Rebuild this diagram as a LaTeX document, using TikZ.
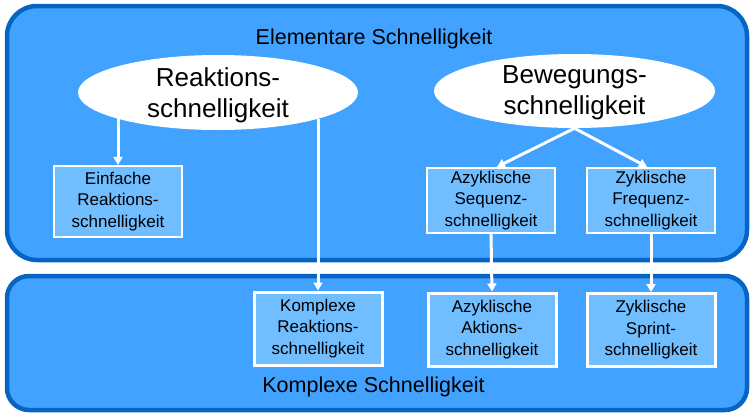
\documentclass[tikz,border=0pt]{standalone}
\usepackage{fontspec}
\setmainfont{Liberation Sans}
\usetikzlibrary{arrows.meta,shapes.geometric}
\definecolor{cfill}{HTML}{41A3FF}
\definecolor{cborder}{HTML}{0664C2}
\definecolor{bfill}{HTML}{70BDFF}
\begin{document}
\begin{tikzpicture}[x=1pt,y=-1pt,
  container/.style={draw=cborder, fill=cfill, line width=4.5pt},
  ell/.style={ellipse, fill=white, draw=none, inner sep=0pt},
  elltext/.style={font=\fontsize{26}{31}\selectfont, align=center, inner sep=0pt},
  sbox/.style={draw=white, fill=bfill, line width=2.2pt, minimum width=128pt, inner sep=0pt, align=center, font=\fontsize{17}{21.5}\selectfont},
  title/.style={font=\fontsize{21.5}{26}\selectfont, anchor=base, inner sep=0pt},
  arr/.style={draw=white, line width=3pt, -{Triangle[length=8pt,width=9pt]}}
]
\useasboundingbox (0,0) rectangle (755,418);
\path[container, rounded corners=30pt] (7,6) rectangle (747,260);
\path[container, rounded corners=22pt] (7,276) rectangle (747,410);

\node[title] (t1) at (374,44) {Elementare Schnelligkeit};
\node[title] (t2) at (373.5,392) {Komplexe Schnelligkeit};

\node[ell, minimum width=280pt, minimum height=75pt] (e1) at (218,92.5) {};
\node[elltext] (e1t) at (218,95) {Reaktions-\\schnelligkeit};
\node[ell, minimum width=281pt, minimum height=74pt] (e2) at (574.5,91) {};
\node[elltext] (e2t) at (574.5,92.5) {Bewegungs-\\schnelligkeit};

\node[sbox, minimum height=71pt] (einf) at (118,201.5) {Einfache\\Reaktions-\\schnelligkeit};
\node[sbox, minimum height=65pt] (seq) at (491,200.5) {Azyklische\\Sequenz-\\schnelligkeit};
\node[sbox, minimum height=65pt] (freq) at (651,200.5) {Zyklische\\Frequenz-\\schnelligkeit};

\node[sbox, line width=3pt, minimum height=73pt] (kom) at (318,328.5) {Komplexe\\Reaktions-\\schnelligkeit};
\node[sbox, line width=3pt, minimum height=73pt] (akt) at (492,329.5) {Azyklische\\Aktions-\\schnelligkeit};
\node[sbox, line width=3pt, minimum height=73pt] (spr) at (651,330) {Zyklische\\Sprint-\\schnelligkeit};

\draw[arr] (einf.north |- e1.194.7) -- (einf.north);
\draw[arr] (kom.north |- e1.-15) -- (kom.north);
\draw[arr] (e2.south) -- ([xshift=6pt]seq.north);
\draw[arr] (e2.south) -- ([xshift=-4pt]freq.north);
\draw[arr] (seq.south) -- (akt.north);
\draw[arr] (freq.south) -- (spr.north);
\end{tikzpicture}
\end{document}
